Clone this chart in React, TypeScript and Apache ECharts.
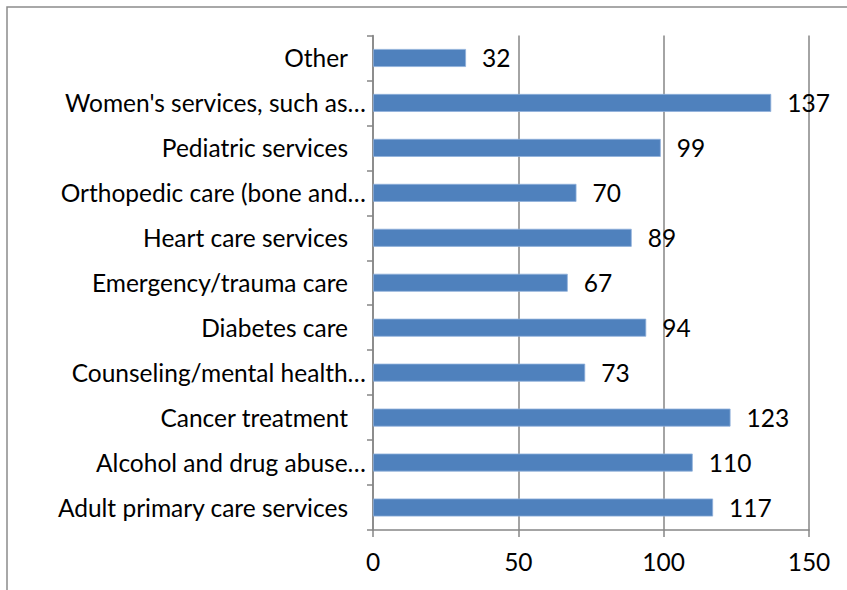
import React, { useEffect, useRef } from "react";
import * as echarts from "echarts";

const categories: string[] = [
  "Adult primary care services",
  "Alcohol and drug abuse…",
  "Cancer treatment",
  "Counseling/mental health…",
  "Diabetes care",
  "Emergency/trauma care",
  "Heart care services",
  "Orthopedic care (bone and…",
  "Pediatric services",
  "Women's services, such as…",
  "Other",
];
const values: number[] = [117, 110, 123, 73, 94, 67, 89, 70, 99, 137, 32];
const xTicks = { min: 0, max: 150, interval: 50 };

const FONT = "Lato";
const FS = 24.5;

export default function App() {
  const ref = useRef<HTMLDivElement>(null);
  useEffect(() => {
    if (!ref.current) return;
    const chart = echarts.init(ref.current, null, { renderer: "svg" });
    chart.setOption({
      animation: false,
      backgroundColor: "#ffffff",
      graphic: [
        {
          type: "rect",
          shape: { x: 7, y: 7, width: 900, height: 700 },
          style: { fill: "none", stroke: "#8c8c8c", lineWidth: 1.5 },
          silent: true,
          z: -1,
        },
      ],
      grid: { left: 373, right: 38, top: 35.5, bottom: 60, containLabel: false },
      xAxis: {
        type: "value",
        min: xTicks.min,
        max: xTicks.max,
        interval: xTicks.interval,
        axisLine: { show: true, lineStyle: { color: "#868686", width: 1.5 } },
        axisTick: { show: true, length: 7, lineStyle: { color: "#868686", width: 1.5 } },
        splitLine: { show: true, lineStyle: { color: "#868686", width: 1.5 } },
        axisLabel: { color: "#000", fontFamily: FONT, fontSize: FS, margin: 19 },
      },
      yAxis: {
        type: "category",
        data: categories,
        boundaryGap: true,
        axisLine: { show: true, lineStyle: { color: "#868686", width: 1.5 } },
        axisTick: { show: true, length: 6, lineStyle: { color: "#868686", width: 1.5 } },
        axisLabel: {
          color: "#000",
          fontFamily: FONT,
          fontSize: FS,
          margin: 7,
          formatter: (v: string) => (v.endsWith("…") ? `{t|${v}}` : `{p|${v}}`),
          rich: {
            t: { fontFamily: FONT, fontSize: FS, color: "#000" },
            p: { fontFamily: FONT, fontSize: FS, color: "#000", padding: [0, 18, 0, 0] },
          },
        },
      },
      series: [
        {
          type: "bar",
          data: values,
          barCategoryGap: "60%",
          itemStyle: { color: "#4F81BD", borderColor: "#8FB0DA", borderWidth: 0.8 },
          label: {
            show: true,
            position: "right",
            distance: 16,
            color: "#000",
            fontFamily: FONT,
            fontSize: FS,
          },
        },
      ],
    });
    return () => chart.dispose();
  }, []);
  return (
    <div
      ref={ref}
      style={{ position: "absolute", left: 0, top: 0, width: 847, height: 590 }}
    />
  );
}
